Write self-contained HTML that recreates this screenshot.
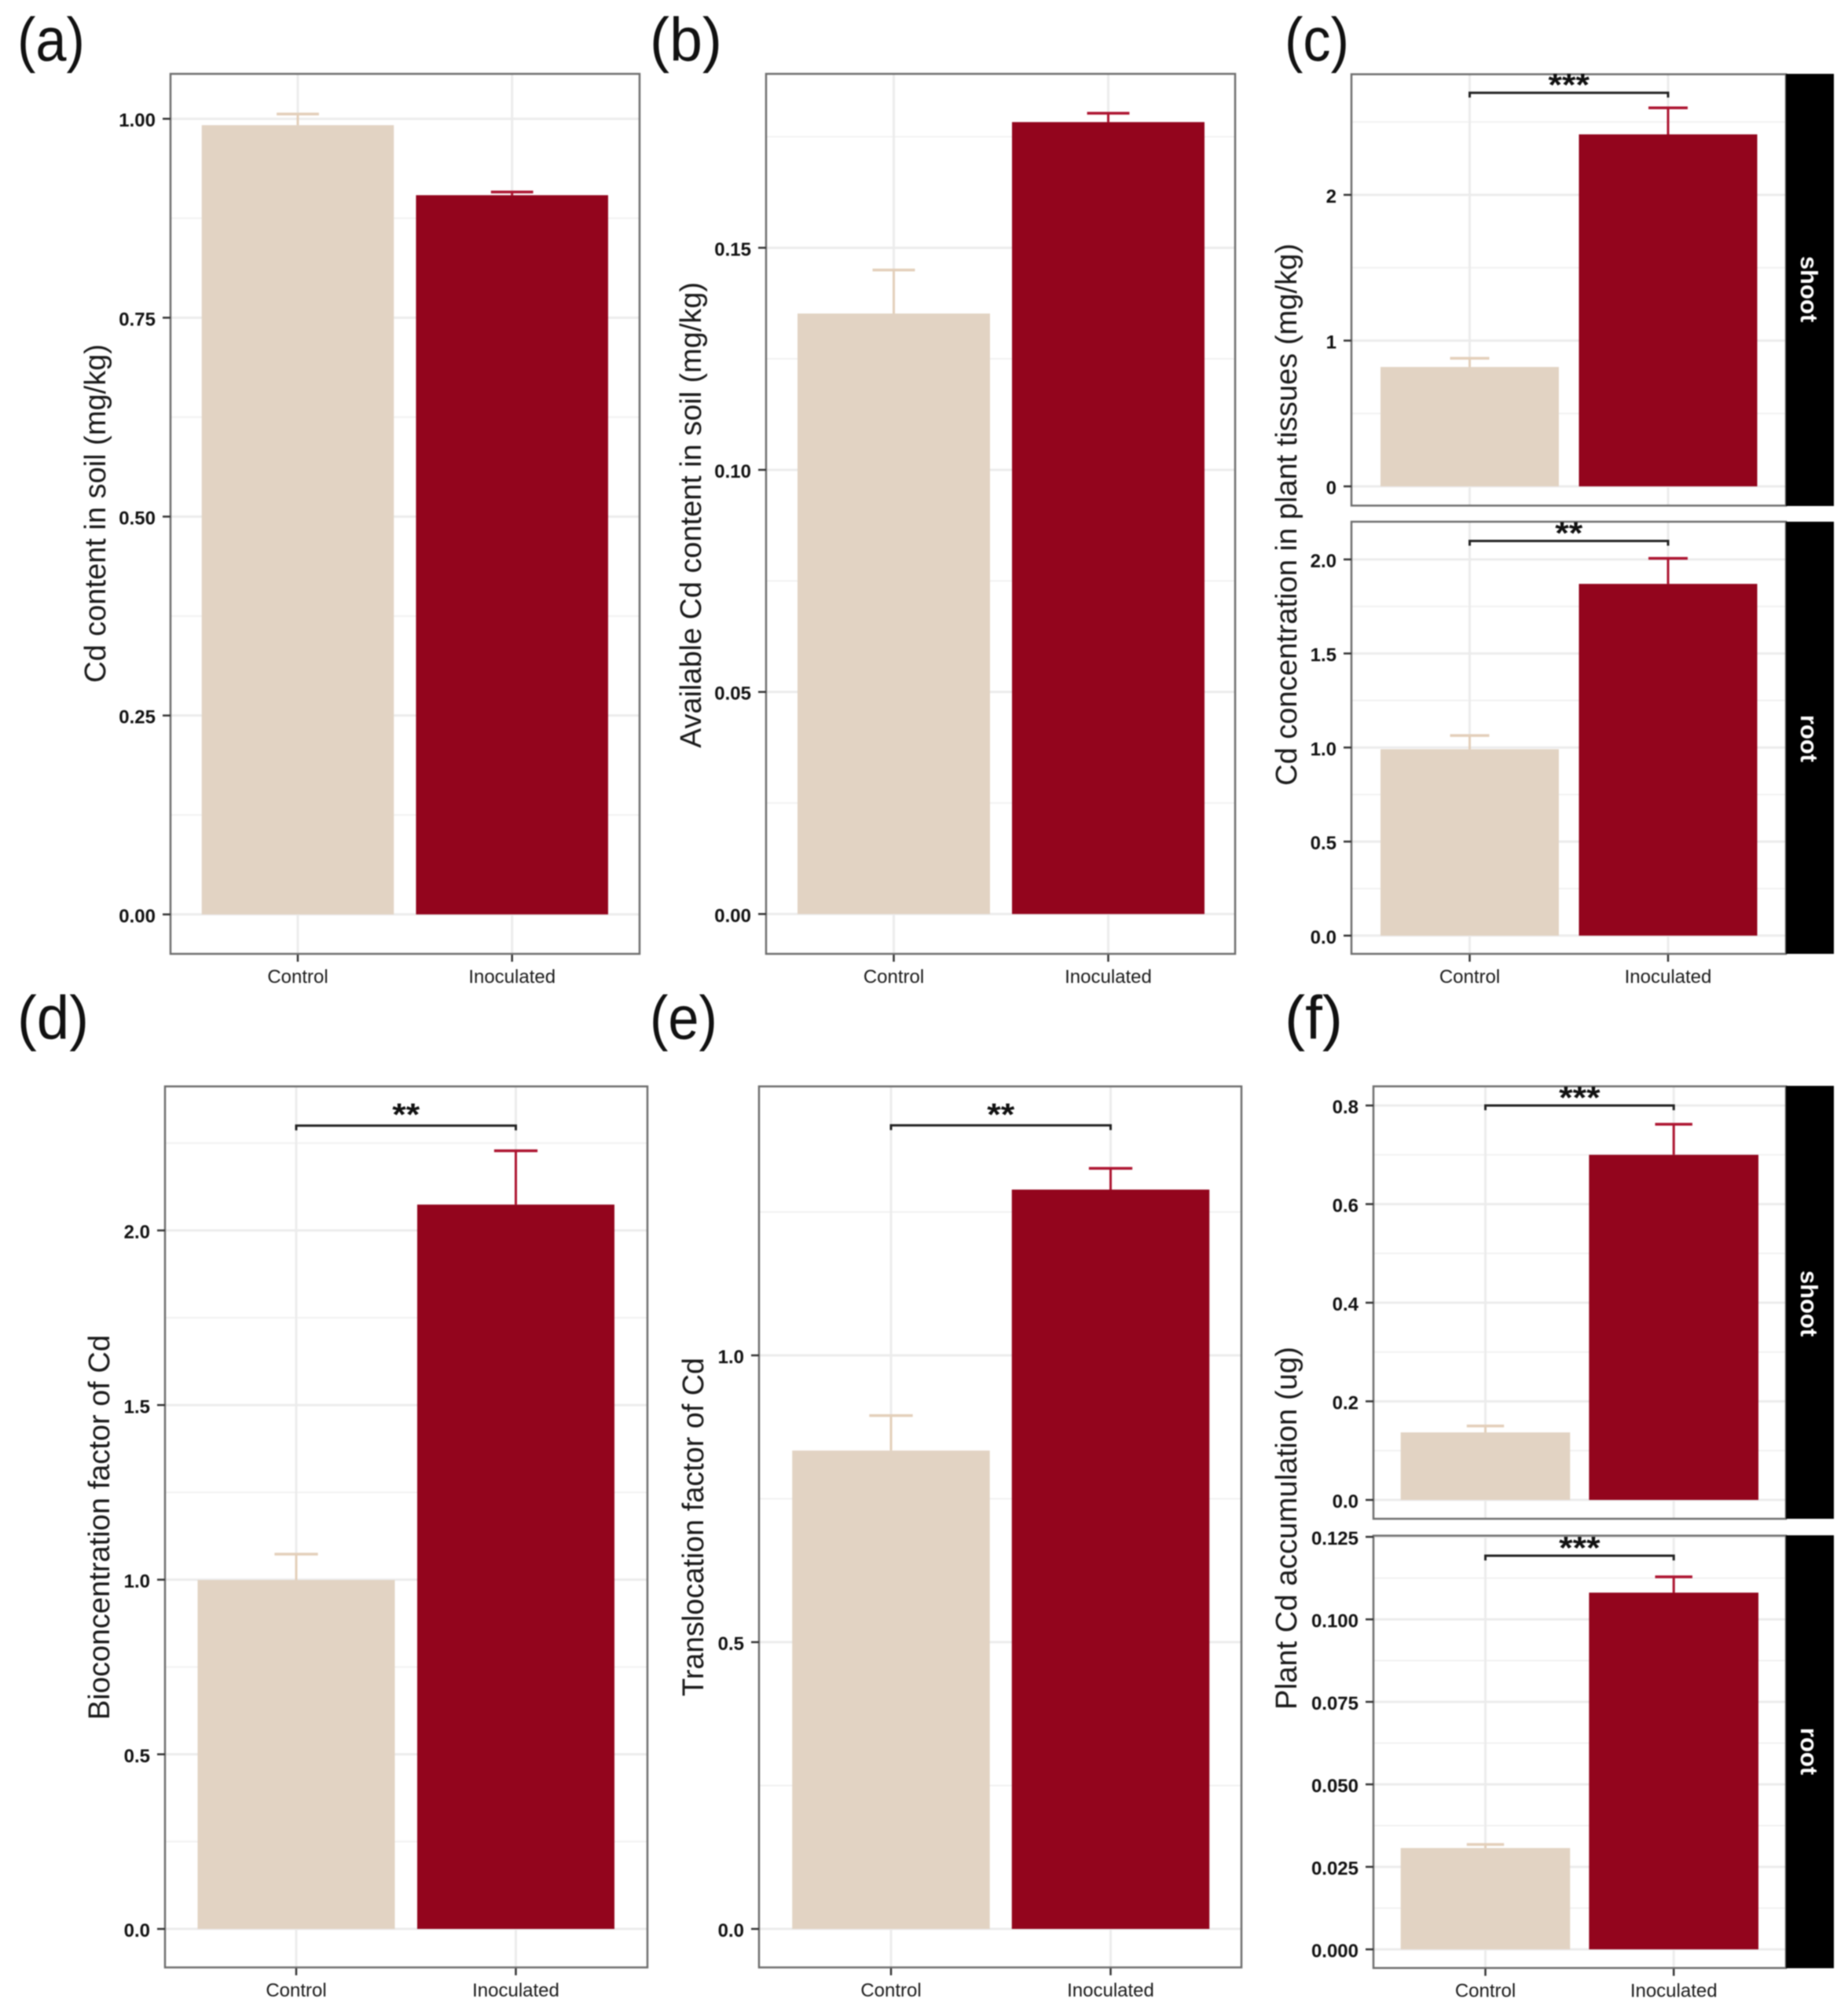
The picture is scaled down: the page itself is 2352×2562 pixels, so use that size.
<!DOCTYPE html>
<html lang="en">
<head>
<meta charset="utf-8">
<title>Cd content and accumulation, control versus inoculated</title>
<style>
  html, body { margin: 0; padding: 0; background: #fff; }
  svg { display: block; filter: blur(0.7px); }
  text { font-family: "Liberation Sans", sans-serif; }
</style>
</head>
<body>
<svg id="figure" xmlns="http://www.w3.org/2000/svg" width="2352" height="2562" viewBox="0 0 2352 2562">
  <rect x="0" y="0" width="2352" height="2562" fill="#fff"/>
  <g id="plots"></g>

  <g fill="#111" font-size="78">
    <text x="22" y="77" textLength="86" lengthAdjust="spacingAndGlyphs">(a)</text>
    <text x="827" y="77" textLength="92" lengthAdjust="spacingAndGlyphs">(b)</text>
    <text x="1635" y="77" textLength="82" lengthAdjust="spacingAndGlyphs">(c)</text>
    <text x="22" y="1322" textLength="91" lengthAdjust="spacingAndGlyphs">(d)</text>
    <text x="827" y="1322" textLength="86" lengthAdjust="spacingAndGlyphs">(e)</text>
    <text x="1635" y="1322" textLength="74" lengthAdjust="spacingAndGlyphs">(f)</text>
  </g>

  <g fill="#1a1a1a" font-size="38" text-anchor="middle">
    <text transform="translate(134 653.5) rotate(-90)" textLength="431" lengthAdjust="spacingAndGlyphs">Cd content in soil (mg/kg)</text>
    <text transform="translate(892 655.5) rotate(-90)" textLength="593" lengthAdjust="spacingAndGlyphs">Available Cd content in soil (mg/kg)</text>
    <text transform="translate(1650 655) rotate(-90)" textLength="690" lengthAdjust="spacingAndGlyphs">Cd concentration in plant tissues (mg/kg)</text>
    <text transform="translate(139 1944) rotate(-90)" textLength="490" lengthAdjust="spacingAndGlyphs">Bioconcentration factor of Cd</text>
    <text transform="translate(895 1943.5) rotate(-90)" textLength="431" lengthAdjust="spacingAndGlyphs">Translocation factor of Cd</text>
    <text transform="translate(1650 1945) rotate(-90)" textLength="462" lengthAdjust="spacingAndGlyphs">Plant Cd accumulation (ug)</text>
  </g>

  <g>
    <rect x="2273" y="94" width="61" height="550" fill="#000"/>
    <rect x="2273" y="664" width="61" height="550" fill="#000"/>
    <rect x="2273" y="1382" width="61" height="551" fill="#000"/>
    <rect x="2273" y="1954" width="61" height="551" fill="#000"/>
    <g fill="#fff" font-size="31" font-weight="bold" text-anchor="middle">
      <text transform="translate(2292 368) rotate(90)">shoot</text>
      <text transform="translate(2292 940) rotate(90)">root</text>
      <text transform="translate(2292 1659) rotate(90)">shoot</text>
      <text transform="translate(2292 2229) rotate(90)">root</text>
    </g>
  </g>
</svg>

<script>
// Shared categories
const categories = ['Control', 'Inoculated'];

// Panel a
const aMeans = [0.992, 0.904];
const aUppers = [1.006, 0.908];
const aTicks = [0, 0.25, 0.5, 0.75, 1];
const aTickLabels = ['0.00', '0.25', '0.50', '0.75', '1.00'];
const aMinorTicks = [0.125, 0.375, 0.625, 0.875];

// Panel b
const bMeans = [0.1352, 0.1783];
const bUppers = [0.145, 0.1803];
const bTicks = [0, 0.05, 0.1, 0.15];
const bTickLabels = ['0.00', '0.05', '0.10', '0.15'];
const bMinorTicks = [0.025, 0.075, 0.125, 0.175];

// Panel c, shoot facet
const cShootMeans = [0.819, 2.415];
const cShootUppers = [0.879, 2.597];
const cShootTicks = [0, 1, 2];
const cShootTickLabels = ['0', '1', '2'];
const cShootMinorTicks = [0.5, 1.5, 2.5];
const cShootBracket = [2.70];
const cShootStars = ['***'];

// Panel c, root facet
const cRootMeans = [0.991, 1.87];
const cRootUppers = [1.064, 2.006];
const cRootTicks = [0, 0.5, 1, 1.5, 2];
const cRootTickLabels = ['0.0', '0.5', '1.0', '1.5', '2.0'];
const cRootMinorTicks = [0.25, 0.75, 1.25, 1.75];
const cRootBracket = [2.098];
const cRootStars = ['**'];

// Panel d
const dMeans = [0.999, 2.074];
const dUppers = [1.073, 2.228];
const dTicks = [0, 0.5, 1, 1.5, 2];
const dTickLabels = ['0.0', '0.5', '1.0', '1.5', '2.0'];
const dMinorTicks = [0.25, 0.75, 1.25, 1.75, 2.25];
const dBracket = [2.30];
const dStars = ['**'];

// Panel e
const eMeans = [0.834, 1.289];
const eUppers = [0.895, 1.326];
const eTicks = [0, 0.5, 1];
const eTickLabels = ['0.0', '0.5', '1.0'];
const eMinorTicks = [0.25, 0.75, 1.25];
const eBracket = [1.401];
const eStars = ['**'];

// Panel f, shoot facet
const fShootMeans = [0.137, 0.70];
const fShootUppers = [0.150, 0.762];
const fShootTicks = [0, 0.2, 0.4, 0.6, 0.8];
const fShootTickLabels = ['0.0', '0.2', '0.4', '0.6', '0.8'];
const fShootMinorTicks = [0.1, 0.3, 0.5, 0.7];
const fShootBracket = [0.80];
const fShootStars = ['***'];

// Panel f, root facet
const fRootMeans = [0.0307, 0.1081];
const fRootUppers = [0.0318, 0.1129];
const fRootTicks = [0, 0.025, 0.05, 0.075, 0.1, 0.125];
const fRootTickLabels = ['0.000', '0.025', '0.050', '0.075', '0.100', '0.125'];
const fRootMinorTicks = [0.0125, 0.0375, 0.0625, 0.0875, 0.1125];
const fRootBracket = [0.1193];
const fRootStars = ['***'];

// Styles
const BAR_COLORS = ['#e2d3c3', '#93051d'];
const ERR_COLORS = ['#e3cfba', '#ad1430'];
const NS = 'http://www.w3.org/2000/svg';
const plotsRoot = document.getElementById('plots');

function make(parent, tag, attrs, text) {
  const el = document.createElementNS(NS, tag);
  for (const k in attrs) el.setAttribute(k, attrs[k]);
  if (text !== undefined) el.textContent = text;
  parent.appendChild(el);
  return el;
}

// Axis functions
function linearY(zeroPx, pxPerUnit) {
  return function (v) { return zeroPx - v * pxPerUnit; };
}
function bandX(firstCenter, step) {
  return function (i) { return firstCenter + i * step; };
}

function drawPanel(p) {
  const y = linearY(p.zeroPx, p.pxPerUnit);
  const x = bandX(p.firstCenter, p.step);
  const capW = p.barW * 0.22;

  const g = make(plotsRoot, 'g', {});
  
  

  // Minor gridlines
  p.minorTicks.forEach(function (v) {
    const line = make(g, 'line', { x1: p.l, x2: p.r, y1: y(v), y2: y(v), stroke: '#f2f2f2', 'stroke-width': 2 });
    
    
  });

  // Major gridlines
  p.ticks.forEach(function (v) {
    const line = make(g, 'line', { x1: p.l, x2: p.r, y1: y(v), y2: y(v), stroke: '#ececec', 'stroke-width': 3 });
    
    
  });

  // Vertical gridlines and x ticks and labels
  categories.forEach(function (c, i) {
    const vline = make(g, 'line', { x1: x(i), x2: x(i), y1: p.t, y2: p.b, stroke: '#ececec', 'stroke-width': 3 });
    
    

    if (p.showX) {
      const xtick = make(g, 'line', { x1: x(i), x2: x(i), y1: p.b, y2: p.b + 10, stroke: '#333', 'stroke-width': 2.5 });
      
      

      const label = make(g, 'text', { x: x(i), y: p.b + 37, 'text-anchor': 'middle', 'font-size': 24, fill: '#1a1a1a' }, c);
      
      
    }
  });

  // Error bars
  categories.forEach(function (c, i) {
    const stem = make(g, 'line', { x1: x(i), x2: x(i), y1: y(p.means[i]), y2: y(p.uppers[i]), stroke: ERR_COLORS[i], 'stroke-width': 3 });
    
    

    const cap = make(g, 'line', { x1: x(i) - capW / 2, x2: x(i) + capW / 2, y1: y(p.uppers[i]), y2: y(p.uppers[i]), stroke: ERR_COLORS[i], 'stroke-width': 3.5 });
    
    
  });

  // Bars
  categories.forEach(function (c, i) {
    const bar = make(g, 'rect', { x: x(i) - p.barW / 2, y: y(p.means[i]), width: p.barW, height: y(0) - y(p.means[i]), fill: BAR_COLORS[i] });
    
    
  });

  // Panel border
  const frame = make(g, 'rect', { x: p.l, y: p.t, width: p.r - p.l, height: p.b - p.t, fill: 'none', stroke: '#6e6e6e', 'stroke-width': 2.5 });
  
  

  // Y ticks and labels
  p.ticks.forEach(function (v, i) {
    const ytick = make(g, 'line', { x1: p.l - 10, x2: p.l, y1: y(v), y2: y(v), stroke: '#333', 'stroke-width': 2.5 });
    
    

    const label = make(g, 'text', { x: p.l - 19, y: y(v) + 10, 'text-anchor': 'end', 'font-size': 24, 'font-weight': 'bold', fill: '#111' }, p.tickLabels[i]);
    
    
  });

  // Significance bracket
  if (p.bracket) {
    const by = y(p.bracket[0]);
    const bracket = make(g, 'path', { d: 'M' + x(0) + ' ' + (by + 6) + 'V' + by + 'H' + x(1) + 'V' + (by + 6), fill: 'none', stroke: '#222', 'stroke-width': 3 });
    
    

    const stars = p.stars[0];
    const label = make(g, 'text', {
      x: (x(0) + x(1)) / 2, y: by - p.starGap + 19, 'text-anchor': 'middle',
      'font-size': 40, 'font-weight': 'bold', fill: '#111',
      textLength: stars.length * 17.5, lengthAdjust: 'spacingAndGlyphs'
    }, stars);
    
    
  }
}

drawPanel({ name: 'panel-a', l: 217, r: 814, t: 94, b: 1214, zeroPx: 1163.8, pxPerUnit: 1012.6,
  firstCenter: 379, step: 272.7, barW: 244.5, showX: true,
  means: aMeans, uppers: aUppers, ticks: aTicks, tickLabels: aTickLabels, minorTicks: aMinorTicks });

drawPanel({ name: 'panel-b', l: 975, r: 1572, t: 94, b: 1214, zeroPx: 1163.3, pxPerUnit: 5653,
  firstCenter: 1137.5, step: 273, barW: 245, showX: true,
  means: bMeans, uppers: bUppers, ticks: bTicks, tickLabels: bTickLabels, minorTicks: bMinorTicks });

drawPanel({ name: 'panel-c-shoot', l: 1720, r: 2273, t: 94.5, b: 643.5, zeroPx: 619, pxPerUnit: 185.5,
  firstCenter: 1870.5, step: 252.5, barW: 227, showX: false,
  means: cShootMeans, uppers: cShootUppers, ticks: cShootTicks, tickLabels: cShootTickLabels, minorTicks: cShootMinorTicks,
  bracket: cShootBracket, stars: cShootStars, starGap: 15.5 });

drawPanel({ name: 'panel-c-root', l: 1720, r: 2273, t: 664, b: 1214, zeroPx: 1190.8, pxPerUnit: 239.4,
  firstCenter: 1870.5, step: 252.5, barW: 227, showX: true,
  means: cRootMeans, uppers: cRootUppers, ticks: cRootTicks, tickLabels: cRootTickLabels, minorTicks: cRootMinorTicks,
  bracket: cRootBracket, stars: cRootStars, starGap: 15.5 });

drawPanel({ name: 'panel-d', l: 210, r: 824, t: 1382.7, b: 2504, zeroPx: 2455, pxPerUnit: 444.5,
  firstCenter: 377, step: 279.5, barW: 251, showX: true,
  means: dMeans, uppers: dUppers, ticks: dTicks, tickLabels: dTickLabels, minorTicks: dMinorTicks,
  bracket: dBracket, stars: dStars, starGap: 19.5 });

drawPanel({ name: 'panel-e', l: 966, r: 1580, t: 1382.7, b: 2504, zeroPx: 2455, pxPerUnit: 730,
  firstCenter: 1134, step: 279.5, barW: 251.5, showX: true,
  means: eMeans, uppers: eUppers, ticks: eTicks, tickLabels: eTickLabels, minorTicks: eMinorTicks,
  bracket: eBracket, stars: eStars, starGap: 19.5 });

drawPanel({ name: 'panel-f-shoot', l: 1748, r: 2273, t: 1382.6, b: 1933, zeroPx: 1909, pxPerUnit: 627.5,
  firstCenter: 1890.5, step: 239.7, barW: 215.6, showX: false,
  means: fShootMeans, uppers: fShootUppers, ticks: fShootTicks, tickLabels: fShootTickLabels, minorTicks: fShootMinorTicks,
  bracket: fShootBracket, stars: fShootStars, starGap: 15.5 });

drawPanel({ name: 'panel-f-root', l: 1748, r: 2273, t: 1954.5, b: 2504.7, zeroPx: 2481, pxPerUnit: 4200,
  firstCenter: 1890.5, step: 239.7, barW: 215.6, showX: true,
  means: fRootMeans, uppers: fRootUppers, ticks: fRootTicks, tickLabels: fRootTickLabels, minorTicks: fRootMinorTicks,
  bracket: fRootBracket, stars: fRootStars, starGap: 15.5 });
</script>
</body>
</html>
